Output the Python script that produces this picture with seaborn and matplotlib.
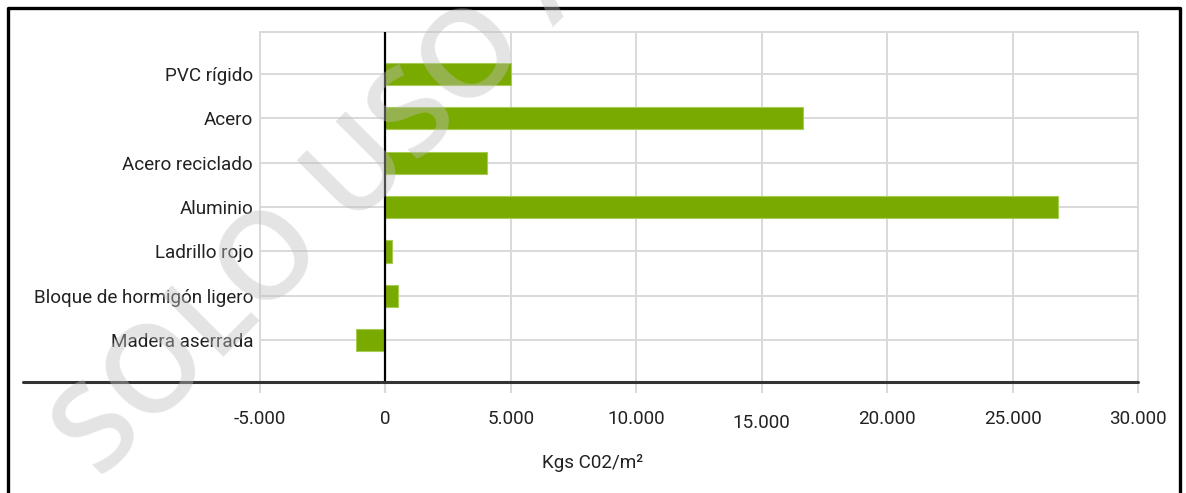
import matplotlib
matplotlib.use("Agg")
import matplotlib.pyplot as plt
import seaborn as sns
import pandas as pd
from matplotlib.lines import Line2D
from matplotlib.ticker import FuncFormatter
import matplotlib.transforms as mtransforms

# ---- data ----
categories = ["PVC rígido", "Acero", "Acero reciclado", "Aluminio",
              "Ladrillo rojo", "Bloque de hormigón ligero", "Madera aserrada"]
values = [5000, 16650, 4040, 26820, 250, 510, -1180]
x_ticks = [-5000, 0, 5000, 10000, 15000, 20000, 25000, 30000]
x_label = "Kgs C02/m²"
watermark = "SOLO USO A"

W, H = 1186, 493
DPI = 100
sns.set_theme(style="white")
plt.rcParams["font.family"] = ["Roboto", "DejaVu Sans"]

fig = plt.figure(figsize=(W / DPI, H / DPI), dpi=DPI)
fig.patch.set_facecolor("white")

left, right, top, bottom = 260, 1138, 32, 382
ax = fig.add_axes([left / W, 1 - bottom / H, (right - left) / W, (bottom - top) / H])

df = pd.DataFrame({"material": categories, "valor": values})
bar_color = "#79aa00"
sns.barplot(data=df, x="valor", y="material", orient="h", color=bar_color,
            saturation=1, width=0.5, ax=ax, edgecolor="#a6cc55", linewidth=0.8,
            zorder=3)

grid_c = "#d9d9d9"
ax.set_xlim(-5000, 30000)
ax.set_ylim(6.94, -0.945)
ax.set_xticks(x_ticks)
ax.xaxis.set_major_formatter(FuncFormatter(lambda v, p: f"{int(v):,}".replace(",", ".")))
ax.grid(True, color=grid_c, linewidth=1.4, zorder=0)
ax.set_axisbelow(True)
ax.set_xlabel("")
ax.set_ylabel("")

for s in ["left", "right", "top"]:
    ax.spines[s].set_color(grid_c)
    ax.spines[s].set_linewidth(1.4)
ax.spines["bottom"].set_visible(False)

ax.tick_params(axis="x", length=8, width=1.4, color=grid_c, pad=12,
               labelsize=13.6, labelcolor="#222222", direction="out", bottom=True)
ax.tick_params(axis="y", length=0, pad=5, labelsize=13.6, labelcolor="#222222")

# zero baseline (vertical) and its tick
ax.axvline(0, color="black", linewidth=1.6, zorder=4)
for t in ax.xaxis.get_major_ticks():
    if t.get_loc() == 0:
        t.tick1line.set_color("black")
        t.tick1line.set_markeredgewidth(1.6)

# bottom axis line extending left
ax.plot([-(left - 23) / (right - left), 1], [6.94, 6.94], color="#333333",
        linewidth=2.2, transform=ax.get_yaxis_transform(), clip_on=False, zorder=5)

# quirk: 15.000 label sits slightly lower
fig.canvas.draw()
for lbl in ax.get_xticklabels():
    if lbl.get_text() == "15.000":
        lbl.set_transform(lbl.get_transform() +
                          mtransforms.ScaledTranslation(0, -4 / DPI, fig.dpi_scale_trans))

fig.text(0.5, 1 - 463 / H, x_label, ha="center", va="center", fontsize=13.6,
         color="#222222")

# frame around figure (left, top, right)
fx0, fx1, fy = 7.5 / W, 1 - 6.5 / W, 1 - 7.5 / H
fig.add_artist(Line2D([fx0, fx0, fx1, fx1], [0, fy, fy, 0], color="black",
                      linewidth=2.4, transform=fig.transFigure))

# watermark
fig.text(100 / W, 1 - 480 / H, watermark, rotation=45, rotation_mode="anchor",
         ha="left", va="baseline", fontsize=88, fontweight="semibold",
         family=["Open Sans", "DejaVu Sans"], color=(0.75, 0.75, 0.75), alpha=0.42,
         zorder=10)

fig.savefig("out.png", dpi=DPI, facecolor="white")
